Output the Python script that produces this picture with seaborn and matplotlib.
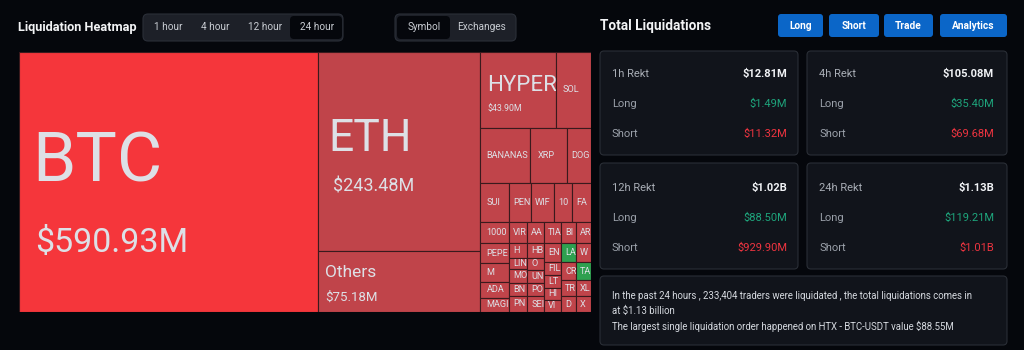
import matplotlib
matplotlib.use("Agg")
import matplotlib.pyplot as plt
import seaborn as sns
import pandas as pd
from matplotlib.patches import Rectangle, FancyBboxPatch

# ---------------- data (values in $M) ----------------
major_names = ["BTC", "ETH", "Others"]
major_values = [590.93, 243.48, 75.18]

row1_names = ["HYPER", "SOL"]
row1_values = [43.90, 20.4]
row2_names = ["BANANAS", "XRP", "DOGE"]
row2_values = [21.2, 15.4, 10.0]
row3_names = ["SUI", "PENGU", "WIF", "1000PEPE", "FARTCOIN"]
row3_values = [8.8, 6.5, 6.8, 5.3, 5.6]

colA_names = ["1000BONK", "PEPE", "M", "ADA", "MAGIC"]
colA_values = [4.8, 4.5, 4.3, 3.6, 3.2]
colB_names = ["VIRTUAL", "H", "LINK", "MOODENG", "BNB", "PNUT"]
colB_values = [2.85, 2.0, 1.6, 1.8, 1.8, 2.2]
colC_names = ["AAVE", "HBAR", "OM", "UNI", "POPCAT", "SEI"]
colC_values = [2.7, 1.9, 1.55, 1.7, 1.7, 2.05]
colD_names = ["TIA", "ENA", "FIL", "LTC", "HIFI", "VINE"]
colD_values = [2.7, 2.4, 1.7, 1.7, 1.55, 1.55]
colE_names = ["BIO", "LAYER", "CRV", "TRUMP", "DOT"]
colE_values = [2.4, 2.15, 2.05, 1.8, 1.8]
colF_names = ["ARB", "WLD", "TAO", "XLM", "XMR"]
colF_values = [2.4, 2.15, 2.05, 1.8, 1.8]
long_dominant = ["LAYER", "TAO"]

time_tabs = ["1 hour", "4 hour", "12 hour", "24 hour"]
view_tabs = ["Symbol", "Exchanges"]
buttons = ["Long", "Short", "Trade", "Analytics"]

card_periods = ["1h Rekt", "4h Rekt", "12h Rekt", "24h Rekt"]
card_totals = ["$12.81M", "$105.08M", "$1.02B", "$1.13B"]
card_long = ["$1.49M", "$35.40M", "$88.50M", "$119.21M"]
card_short = ["$11.32M", "$69.68M", "$929.90M", "$1.01B"]

summary_lines = [
    "In the past 24 hours , 233,404 traders were liquidated , the total liquidations comes in",
    "at $1.13 billion",
    "The largest single liquidation order happened on HTX - BTC-USDT value $88.55M",
]

# ---------------- style ----------------
BG = "#05070c"
CARD = "#11141b"
CARD_EDGE = "#2a2e36"
RED_BRIGHT = "#f5363b"
RED = "#c0444a"
GREEN = "#2ea04f"
CELL_EDGE = "#3a1a1d"
TXT = "#dde0e6"

sns.set_theme(style="dark", rc={"figure.facecolor": BG, "axes.facecolor": BG,
                                "savefig.facecolor": BG})
plt.rcParams["font.family"] = ["Roboto", "DejaVu Sans"]

fig = plt.figure(figsize=(10.24, 3.5), dpi=100)
renderer = fig.canvas.get_renderer()


# ---------------- treemap layout (slice and dice from values) ----------------
def stack(names, values, x, y, w, h, vertical):
    tot = float(sum(values))
    out, pos = [], 0.0
    for n, v in zip(names, values):
        f = v / tot
        if vertical:
            out.append((n, v, x, y + pos * h, w, f * h))
        else:
            out.append((n, v, x + pos * w, y, f * w, h))
        pos += f
    return out


rows = [(row1_names, row1_values), (row2_names, row2_values), (row3_names, row3_values)]
cols = [(colA_names, colA_values), (colB_names, colB_values), (colC_names, colC_values),
        (colD_names, colD_values), (colE_names, colE_values), (colF_names, colF_values)]
bottom_sum = sum(sum(v) for _, v in cols)
right_sum = sum(sum(v) for _, v in rows) + bottom_sum
total = sum(major_values) + right_sum

cells = []
x = 0.0
wb = major_values[0] / total
cells += stack([major_names[0]], [major_values[0]], x, 0, wb, 1, True)
x += wb
w2 = (major_values[1] + major_values[2]) / total
cells += stack(major_names[1:], major_values[1:], x, 0, w2, 1, True)
x += w2
w3 = right_sum / total
row_blocks = stack(["r1", "r2", "r3", "bottom"],
                   [sum(row1_values), sum(row2_values), sum(row3_values), bottom_sum],
                   x, 0, w3, 1, True)
for (names, vals), blk in zip(rows, row_blocks[:3]):
    cells += stack(names, vals, blk[2], blk[3], blk[4], blk[5], False)
bb = row_blocks[3]
col_blocks = stack([str(i) for i in range(len(cols))], [sum(v) for _, v in cols],
                   bb[2], bb[3], bb[4], bb[5], False)
for (names, vals), blk in zip(cols, col_blocks):
    cells += stack(names, vals, blk[2], blk[3], blk[4], blk[5], True)

df = pd.DataFrame(cells, columns=["name", "value", "x", "y", "w", "h"])

L, T, W, H = 19, 52, 572, 260
ax = fig.add_axes([L / 1024, 1 - (T + H) / 350, W / 1024, H / 350])
ax.set_xlim(0, 1)
ax.set_ylim(1, 0)
ax.axis("off")

vmax = df["value"].max()
for r in df.itertuples():
    if r.name in long_dominant:
        fc = GREEN
    elif r.value == vmax:
        fc = RED_BRIGHT
    else:
        fc = RED
    rect = Rectangle((r.x, r.y), r.w, r.h, facecolor=fc, edgecolor=CELL_EDGE, lw=0.8)
    ax.add_patch(rect)
    cy = r.y + r.h / 2
    val_txt = f"${r.value:.2f}M"
    small = False
    if r.name == "BTC":
        specs = [(r.name, 13, 0, 50), (val_txt, 16, -70, 24.5)]
    elif r.name == "ETH":
        specs = [(r.name, 10, 0, 32), (val_txt, 15, -40, 13)]
    elif r.name == "Others":
        specs = [(r.name, 7, 4, 12.5), (val_txt, 7, -19, 9.5)]
    elif r.name == "HYPER":
        specs = [(r.name, 8, -1, 16), (val_txt, 8, -21, 6.3)]
    else:
        specs = [(r.name, 7, -2.5, 6.6)]
        small = True
    cell_px = r.w * W
    for s, dx, dy, fs in specs:
        if small and cell_px < 26:
            dx = 4
        t = ax.annotate(s, xy=(r.x, cy), xytext=(dx, dy), textcoords="offset pixels",
                        ha="left", va="baseline", fontsize=fs, color=TXT)
        t.set_clip_path(rect)
        if small:
            # show only the characters that fit inside the cell, as the clipped reference does
            full = s
            n = len(full)
            while n > 1 and t.get_window_extent(renderer).width > cell_px - dx + 1:
                n -= 1
                t.set_text(full[:n])

# ---------------- UI overlay ----------------
ui = fig.add_axes([0, 0, 1, 1], zorder=-1)
ui.set_xlim(0, 1024)
ui.set_ylim(350, 0)
ui.axis("off")


def rbox(x0, y0, w, h, fc, ec="none", r=4, lw=0.8):
    ui.add_patch(FancyBboxPatch((x0, y0), w, h, boxstyle=f"round,pad=0,rounding_size={r}",
                                fc=fc, ec=ec, lw=lw))


ui.text(18, 27, "Liquidation Heatmap", fontsize=9.2, fontweight="bold", color="#f2f3f5",
        va="center", ha="left")
rbox(143, 14, 200, 27, "#1d2028", "#2b2f38", r=5)
rbox(290, 16, 52, 23, BG, r=4)
for s, cx in zip(time_tabs, [168, 215, 265, 317]):
    ui.text(cx, 27, s, fontsize=7.2, color="#c9cdd3", ha="center", va="center")

rbox(395, 14, 121, 27, "#1d2028", "#2b2f38", r=5)
rbox(397, 16, 53, 23, BG, r=4)
for s, cx in zip(view_tabs, [424, 482]):
    ui.text(cx, 27, s, fontsize=7.2, color="#c9cdd3", ha="center", va="center")

ui.text(600, 26, "Total Liquidations", fontsize=9.8, fontweight="bold", color="#f2f3f5",
        va="center", ha="left")
for s, x0, w in zip(buttons, [778, 829, 884, 940], [45, 50, 49, 67]):
    rbox(x0, 14, w, 23, "#0b66c8", r=3)
    ui.text(x0 + w / 2, 26, s, fontsize=7.3, fontweight="bold", color="white",
            ha="center", va="center")

card_pos = [(600, 51), (807, 51), (600, 163), (807, 163)]
for (x0, y0), p, tv, lv, sv in zip(card_pos, card_periods, card_totals, card_long, card_short):
    w = 198 if x0 == 600 else 200
    rbox(x0, y0, w, 104 if y0 == 51 else 106, CARD, CARD_EDGE, r=4)
    lx = x0 + 12
    rx = x0 + w - 11 if x0 == 600 else x0 + w - 13
    base = y0 + 23 + (2 if y0 == 163 else 0)
    ui.text(lx, base, p, fontsize=8, color="#a9aeb6", va="center", ha="left")
    ui.text(rx, base, tv, fontsize=8, fontweight="bold", color="#f1f3f6", va="center", ha="right")
    ui.text(lx, base + 30, "Long", fontsize=8, color="#9ba1aa", va="center", ha="left")
    ui.text(rx, base + 30, lv, fontsize=8, color="#1ea57c", va="center", ha="right")
    ui.text(lx, base + 60, "Short", fontsize=8, color="#9ba1aa", va="center", ha="left")
    ui.text(rx, base + 60, sv, fontsize=8, color="#ee3440", va="center", ha="right")

rbox(600, 276, 407, 69, CARD, CARD_EDGE, r=4)
for i, s in enumerate(summary_lines):
    ui.text(612, 296 + 15 * i, s, fontsize=6.9, color="#d5d9df", va="center", ha="left")

fig.savefig("out.png", dpi=100, facecolor=BG)
